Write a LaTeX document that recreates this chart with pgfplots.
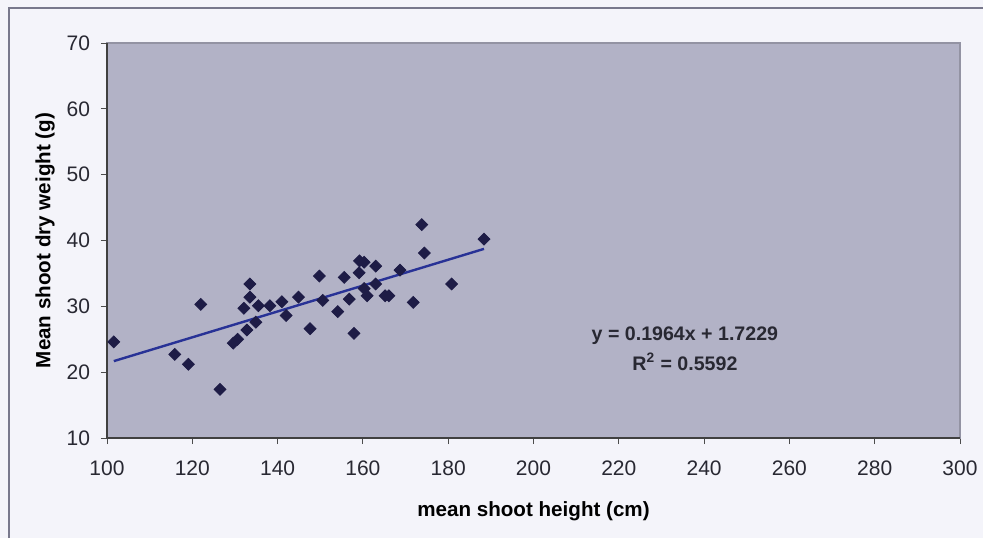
\documentclass[border=0pt]{standalone}
\usepackage{pgfplots}
\pgfplotsset{compat=1.18}
\usepackage{fontspec}
\setmainfont{Liberation Sans}
\definecolor{pagebg}{RGB}{244,244,250}
\definecolor{plotbg}{RGB}{178,178,198}
\definecolor{framegray}{RGB}{120,120,140}
\definecolor{markcol}{RGB}{30,28,70}
\definecolor{linecol}{RGB}{40,50,150}
\definecolor{txt}{RGB}{40,40,50}
\begin{document}
\begin{tikzpicture}
\path[use as bounding box, fill=pagebg] (0,0) rectangle (491.5pt,269pt);
\draw[framegray, line width=0.8pt] (4.5pt,0) -- (4.5pt,265pt) -- (491.5pt,265pt);
\begin{axis}[
  at={(53.5pt,50pt)}, anchor=south west,
  scale only axis, width=426.5pt, height=197.5pt,
  xmin=100, xmax=300, ymin=10, ymax=70,
  xtick={100,120,...,300}, ytick={10,20,...,70},
  xtick pos=left, ytick pos=left,
  tick align=outside, major tick length=3pt,
  axis background/.style={fill=plotbg},
  axis line style={draw=framegray!80, line width=0.6pt},
  every tick/.style={draw=black!70, line width=0.5pt},
  ticklabel style={font=\fontsize{10.5}{12}\selectfont, text=txt},
  /pgf/number format/assume math mode=true,
  xticklabel style={yshift=-5pt},
  yticklabel style={xshift=-2pt},
  xlabel={\textbf{mean shoot height (cm)}},
  ylabel={\textbf{Mean shoot dry weight (g)}},
  label style={font=\fontsize{10.3}{12}\selectfont, text=black},
  xlabel style={yshift=-6pt},
  ylabel style={yshift=-1pt},
  clip=false,
]
\addplot[only marks, mark=square*, mark size=2.1pt, mark options={rotate=45, fill=markcol, draw=markcol}] coordinates {
(101.6,24.6) (115.9,22.7) (119.1,21.2) (122.0,30.3) (126.5,17.4)
(129.6,24.4) (130.6,25.0) (132.8,26.4) (134.9,27.6) (132.1,29.7)
(133.5,33.4) (133.5,31.4) (135.5,30.1) (138.2,30.1) (141.0,30.7)
(142.0,28.6) (144.9,31.4) (147.6,26.6) (149.8,34.6) (150.6,30.9)
(154.1,29.2) (155.6,34.4) (156.8,31.1) (157.9,25.9) (159.1,35.1)
(159.2,36.9) (160.3,36.7) (160.3,32.7) (161.0,31.6) (163.0,36.1)
(163.0,33.4) (165.2,31.6) (166.1,31.6) (168.7,35.5) (171.8,30.6)
(173.8,42.4) (174.4,38.1) (180.8,33.4) (188.4,40.2)
};
\addplot[linecol, line width=1.2pt] coordinates {(101.6,21.68) (188.4,38.73)};
\draw[black!75, line width=0.9pt] (rel axis cs:0,1) -- (rel axis cs:0,0) -- (rel axis cs:1,0);
\node[font=\bfseries\fontsize{9.8}{15}\selectfont, text=txt, align=center] at (axis cs:235.5,23.6) {y = 0.1964x + 1.7229\\R\textsuperscript{2} = 0.5592};
\end{axis}
\end{tikzpicture}
\end{document}
